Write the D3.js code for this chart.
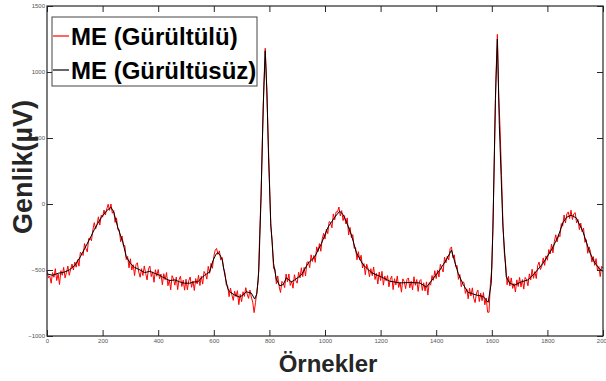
<!DOCTYPE html>
<html>
<head>
<meta charset="utf-8">
<script src="https://cdn.jsdelivr.net/npm/d3@7"></script>
<style>
  body { margin: 0; background: #fff; }
  svg text { font-family: "Liberation Sans", Arial, sans-serif; }
</style>
</head>
<body>
<div id="chart"></div>
<script>
// clean ECG (sample index, amplitude in µV)
const cleanX = [0,20,40,64,80,100,120,136,155,172,196,215,230,240,255,273,285,300,315,335,351,370,387,405,417,441,460,477,495,513,530,543,555,567,585,597,608,615,622,630,639,650,657,675,693,705,717,735,747,755,762,770,778,785,791,797,805,815,825,837,850,861,879,891,915,939,963,987,1011,1035,1053,1065,1077,1095,1113,1137,1167,1203,1233,1269,1305,1341,1365,1389,1413,1437,1455,1467,1479,1497,1515,1545,1569,1587,1598,1604,1613,1620,1627,1640,1652,1664,1682,1706,1730,1754,1784,1814,1838,1856,1870,1885,1904,1928,1952,1970,1987,2000];
const cleanY = [-530,-540,-525,-515,-500,-465,-400,-335,-260,-185,-100,-50,-25,-60,-180,-290,-400,-450,-480,-500,-520,-510,-525,-540,-555,-580,-575,-590,-600,-600,-590,-590,-560,-540,-515,-430,-380,-370,-385,-420,-530,-640,-665,-690,-705,-690,-665,-675,-720,-680,-500,50,750,1160,850,350,-150,-450,-570,-620,-610,-560,-590,-575,-538,-450,-400,-300,-175,-100,-55,-80,-135,-235,-370,-460,-520,-553,-585,-598,-595,-598,-630,-565,-500,-420,-350,-440,-525,-610,-670,-690,-700,-745,-600,-200,800,1250,600,-170,-550,-600,-615,-590,-575,-525,-450,-350,-250,-140,-100,-85,-105,-210,-365,-445,-490,-510];

// noisy ECG, one value every 5 samples from 0 to 2000 (one row = 100 samples)
const noisyStep = 5;
const noisyY = [
  -500,-560,-545,-600,-520,-555,-490,-580,-530,-610,-505,-540,-480,-560,-520,-470,-540,-495,-455,-500,
  -440,-479,-422,-471,-365,-379,-390,-300,-338,-363,-261,-260,-278,-195,-141,-190,-155,-97,-160,-85,
  -100,-46,-83,-37,-2,-48,0,-70,-50,-140,-105,-195,-195,-286,-242,-318,-314,-421,-397,-484,
  -415,-500,-460,-542,-460,-445,-515,-555,-490,-542,-469,-527,-575,-492,-470,-550,-514,-593,-498,-547,
  -496,-566,-531,-612,-528,-574,-519,-619,-574,-650,-543,-567,-615,-554,-649,-573,-547,-625,-577,-653,
  -570,-650,-580,-553,-631,-583,-655,-565,-605,-540,-618,-548,-607,-511,-531,-569,-472,-525,-450,-487,
  -397,-350,-337,-382,-355,-425,-405,-485,-520,-615,-620,-702,-637,-688,-730,-661,-701,-657,-763,-684,
  -740,-665,-700,-634,-682,-715,-652,-705,-744,-823,-747,-660,-580,-230,70,510,900,1180,910,550,
  192,-170,-275,-490,-490,-605,-545,-625,-670,-586,-600,-633,-530,-590,-530,-617,-585,-638,-536,-581,
  -600,-517,-560,-483,-550,-480,-545,-442,-438,-482,-385,-435,-390,-442,-325,-360,-300,-358,-265,-223,
  -265,-190,-225,-133,-140,-180,-75,-120,-60,-60,-23,-90,-50,-126,-88,-151,-105,-235,-177,-255,
  -232,-336,-330,-423,-361,-425,-388,-485,-451,-536,-456,-491,-551,-490,-543,-477,-572,-526,-606,-515,
  -580,-510,-615,-546,-582,-542,-628,-570,-547,-649,-566,-613,-545,-632,-593,-668,-567,-587,-641,-571,
  -560,-635,-585,-650,-551,-616,-572,-662,-583,-572,-655,-597,-659,-590,-690,-595,-615,-542,-578,-505,
  -565,-501,-553,-457,-487,-515,-403,-446,-394,-424,-339,-325,-407,-385,-475,-465,-571,-534,-627,-590,
  -595,-677,-643,-718,-638,-697,-635,-713,-747,-674,-652,-739,-676,-733,-671,-764,-712,-820,-820,-600,
  -487,-70,440,970,1285,816,560,216,-140,-368,-462,-612,-548,-621,-560,-639,-603,-667,-575,-625,
  -556,-628,-573,-645,-556,-573,-620,-529,-575,-494,-563,-512,-565,-467,-440,-497,-470,-408,-465,-393,
  -426,-345,-378,-304,-370,-284,-233,-287,-230,-248,-148,-168,-83,-144,-75,-60,-110,-47,-118,-74,
  -65,-144,-118,-194,-145,-211,-182,-291,-270,-373,-325,-363,-440,-398,-465,-414,-502,-474,-550,-473,
  -485
];

const xTicks = [0,200,400,600,800,1000,1200,1400,1600,1800,2000];
const yTicks = [-1000,-500,0,500,1000,1500];
const seriesNames = ['ME (Gürültülü)', 'ME (Gürültüsüz)'];
const seriesColors = ['#ff0000', '#000000'];

const W = 606, H = 381;
const margin = { top: 6, right: 3, bottom: 45, left: 47 };
const width = W - margin.left - margin.right;
const height = H - margin.top - margin.bottom;

const svg = d3.select('#chart').append('svg')
  .attr('width', W).attr('height', H);

const g = svg.append('g')
  .attr('transform', `translate(${margin.left},${margin.top})`);

const x = d3.scaleLinear().domain([0, 2000]).range([0, width]);
const y = d3.scaleLinear().domain([-1000, 1500]).range([height, 0]);

const noisy = noisyY.map((v, i) => [i * noisyStep, v]);
const clean = cleanX.map((s, i) => [s, cleanY[i]]);

const line = d3.line().x(d => x(d[0])).y(d => y(d[1]));

g.append('path').datum(noisy)
  .attr('fill', 'none').attr('stroke', seriesColors[0]).attr('stroke-width', 1)
  .attr('d', line);

g.append('path').datum(clean)
  .attr('fill', 'none').attr('stroke', seriesColors[1]).attr('stroke-width', 1)
  .attr('d', line);

// axes, ticks pointing inward on all four sides
function styleAxis(sel) {
  sel.select('.domain').remove();
  sel.selectAll('.tick line').attr('stroke', '#262626');
  sel.selectAll('.tick text').attr('fill', '#555').style('font-size', '6px');
}

const fmt = d3.format('d');

g.append('g').attr('transform', `translate(0,${height})`)
  .call(d3.axisBottom(x).tickValues(xTicks).tickSize(-6).tickPadding(3).tickFormat(fmt))
  .call(styleAxis);
g.append('g')
  .call(d3.axisLeft(y).tickValues(yTicks).tickSize(-6).tickPadding(2).tickFormat(fmt))
  .call(styleAxis);
g.append('g')
  .call(d3.axisTop(x).tickValues(xTicks).tickSize(-6).tickFormat(''))
  .call(styleAxis);
g.append('g').attr('transform', `translate(${width},0)`)
  .call(d3.axisRight(y).tickValues(yTicks).tickSize(-6).tickFormat(''))
  .call(styleAxis);

g.append('rect')
  .attr('width', width).attr('height', height)
  .attr('fill', 'none').attr('stroke', '#262626').attr('stroke-width', 1.2);

// axis titles
svg.append('text')
  .attr('x', 328).attr('y', 372)
  .attr('text-anchor', 'middle')
  .style('font-size', '24px').style('font-weight', 'bold').attr('fill', '#262626')
  .text('Örnekler');

svg.append('text')
  .attr('transform', 'translate(32,167) rotate(-90)')
  .attr('text-anchor', 'middle')
  .style('font-size', '27px').style('font-weight', 'bold').attr('fill', '#262626')
  .text('Genlik(µV)');

// legend
const leg = svg.append('g').attr('transform', 'translate(52,17)');
leg.append('rect')
  .attr('width', 205).attr('height', 69)
  .attr('fill', '#fff').attr('stroke', '#444').attr('stroke-width', 1);

seriesNames.forEach((name, i) => {
  const cy = 19 + i * 34;
  leg.append('line')
    .attr('x1', 1).attr('x2', 17).attr('y1', cy).attr('y2', cy)
    .attr('stroke', seriesColors[i]).attr('stroke-width', 1.2);
  leg.append('text')
    .attr('x', 19).attr('y', cy + 9)
    .style('font-size', '24px').style('font-weight', 'bold').attr('fill', '#000')
    .text(name);
});
</script>
</body>
</html>
